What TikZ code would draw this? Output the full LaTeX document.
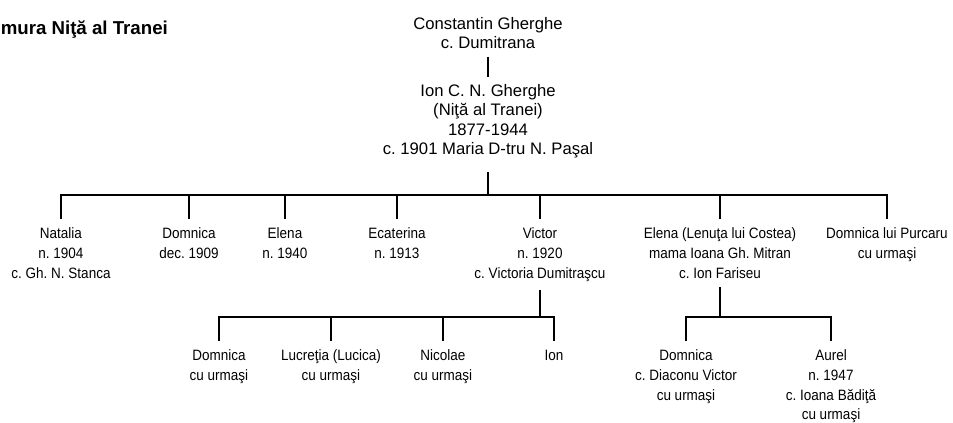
\documentclass[tikz,border=0pt]{standalone}
\usepackage{fontspec}
\setmainfont{Liberation Sans}
\newfontfamily\narrowsans[FakeStretch=0.9]{Liberation Sans}
\usetikzlibrary{positioning,calc}
\frenchspacing

\begin{document}
\begin{tikzpicture}[x=0.75pt, y=-0.75pt, line width=1.2pt,
  person/.style={anchor=north, align=center, inner xsep=0pt, inner ysep=6pt,
    font=\narrowsans\fontsize{11.25}{14.8}\selectfont},
  elder/.style={anchor=north, align=center, inner xsep=0pt, inner ysep=5pt,
    font=\fontsize{12.5}{14.5}\selectfont}]
\useasboundingbox (0,0) rectangle (953,422);

% titlu
\node[anchor=west, inner sep=0pt, font=\bfseries\fontsize{14}{16}\selectfont] (titlu) at (0,30) {mura Niţă al Tranei};

% parinti
\node[elder] (root) at (488,10) {Constantin Gherghe\\c. Dumitrana};
\node[elder] (ion) at (488,77) {Ion C. N. Gherghe\\(Niţă al Tranei)\\1877-1944\\c. 1901 Maria D-tru N. Paşal};

% copiii lui Ion
\node[person] (natalia) at (61,219) {Natalia\\n. 1904\\c. Gh. N. Stanca};
\node[person] (domnica) at (189,219) {Domnica\\dec. 1909};
\node[person] (elena) at (285,219) {Elena\\n. 1940};
\node[person] (ecaterina) at (397,219) {Ecaterina\\n. 1913};
\node[person] (victor) at (540,219) {Victor\\n. 1920\\c. Victoria Dumitraşcu};
\node[person] (lenuta) at (720,219) {Elena (Lenuţa lui Costea)\\mama Ioana Gh. Mitran\\c. Ion Fariseu};
\node[person] (purcaru) at (887,219) {Domnica lui Purcaru\\cu urmaşi};

% nepotii
\node[person] (domnicaV) at (219,341) {Domnica\\cu urmaşi};
\node[person] (lucretia) at (331,341) {Lucreţia (Lucica)\\cu urmaşi};
\node[person] (nicolae) at (443,341) {Nicolae\\cu urmaşi};
\node[person] (ionV) at (554,341) {Ion};
\node[person] (domnicaL) at (686,341) {Domnica\\c. Diaconu Victor\\cu urmaşi};
\node[person] (aurel) at (831,341) {Aurel\\n. 1947\\c. Ioana Bădiţă\\cu urmaşi};

% legaturi
\coordinate (bus1) at (488,195);
\coordinate (busV) at (540,317);
\coordinate (busL) at (720,317);

\draw (root) -- (ion);
\draw[shorten <=5pt] (ion.south) -- (bus1);
\draw (natalia.north) -- (natalia.north |- bus1) -- (purcaru.north |- bus1) -- (purcaru.north);
\foreach \c in {domnica,elena,ecaterina,victor,lenuta}
  \draw (\c.north) -- (\c.north |- bus1);

\draw (victor.south) -- (busV);
\draw (domnicaV.north) -- (domnicaV.north |- busV) -- (ionV.north |- busV) -- (ionV.north);
\foreach \c in {lucretia,nicolae}
  \draw (\c.north) -- (\c.north |- busV);

\draw (lenuta.south) -- (busL);
\draw (domnicaL.north) -- (domnicaL.north |- busL) -- (aurel.north |- busL) -- (aurel.north);
\end{tikzpicture}
\end{document}
